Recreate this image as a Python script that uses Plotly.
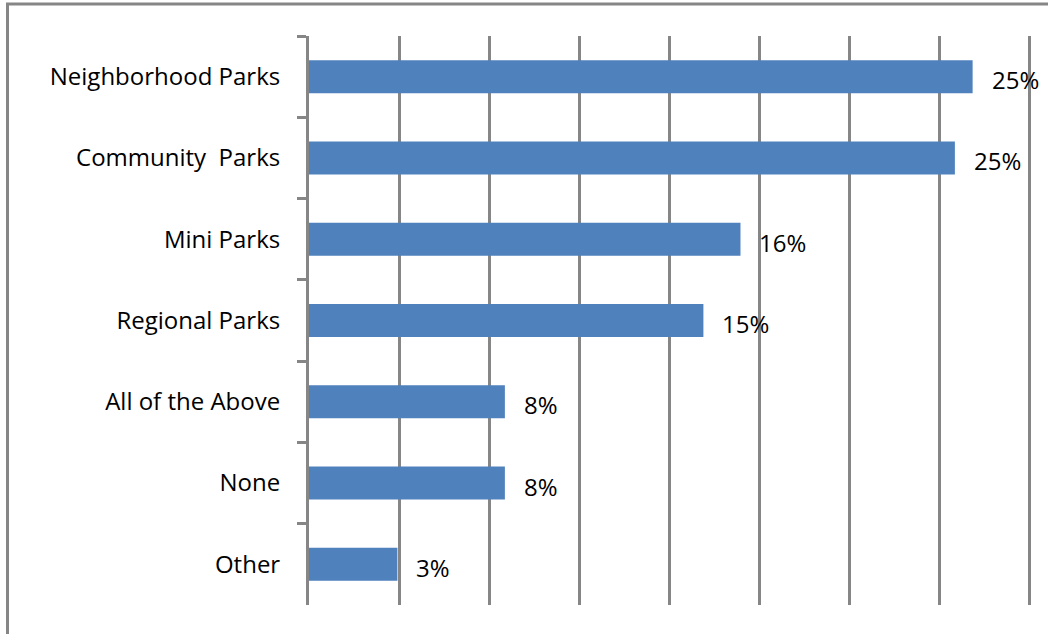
import plotly.graph_objects as go

categories = ["Neighborhood Parks", "Community  Parks", "Mini Parks", "Regional Parks",
              "All of the Above", "None", "Other"]
values = [25.07, 24.4, 16.3, 14.9, 7.4, 7.4, 3.34]
labels = ["25%", "25%", "16%", "15%", "8%", "8%", "3%"]

grid_step = 3.4
n_steps = 8

FONT = "Open Sans"
FS = 24
GRAY = "#868686"

fig = go.Figure()
fig.add_trace(go.Bar(
    x=values, y=categories, orientation="h",
    marker=dict(color="#4F81BD", line=dict(width=0)),
    hoverinfo="skip",
))

for v, c, t in zip(values, categories, labels):
    fig.add_annotation(x=v, y=c, text=t, showarrow=False, xanchor="left",
                       xshift=17, yshift=-3,
                       font=dict(family=FONT, size=FS, color="black"))

W, H = 1048, 634
L, LASTGRID, R, T, B = 309, 1029, 1036, 36, 605
ml, mr, mt, mb = L, W - R, T, H - B
pw, ph = R - L, B - T
x_max = grid_step * n_steps * (R - L) / (LASTGRID - L)

def px(xp):
    return (xp - L) / pw

def py(yp):
    return (B - yp) / ph

# outer chart border (left and top visible)
fig.add_shape(type="rect", xref="paper", yref="paper",
              x0=px(7.5), x1=px(1060), y0=py(650), y1=py(4),
              line=dict(color=GRAY, width=3), layer="below")

fig.update_layout(
    width=W, height=H,
    margin=dict(l=ml, r=mr, t=mt, b=mb, pad=0),
    paper_bgcolor="white", plot_bgcolor="white",
    showlegend=False,
    bargap=0.594,
    font=dict(family=FONT, size=FS, color="black"),
    xaxis=dict(range=[0, x_max], dtick=grid_step, tick0=0,
               showgrid=True, gridcolor=GRAY, gridwidth=3,
               showticklabels=False, zeroline=False, showline=False, ticks=""),
    yaxis=dict(categoryorder="array", categoryarray=categories, autorange="reversed",
               showgrid=False, showline=True, linecolor=GRAY, linewidth=3,
               ticks="outside", tickson="boundaries", ticklen=9, tickwidth=3,
               tickcolor=GRAY, ticklabelstandoff=21,
               tickfont=dict(family=FONT, size=FS, color="black")),
)

fig.write_html("out.html", config={"displayModeBar": False},
               post_script="document.body.style.margin='0';")
